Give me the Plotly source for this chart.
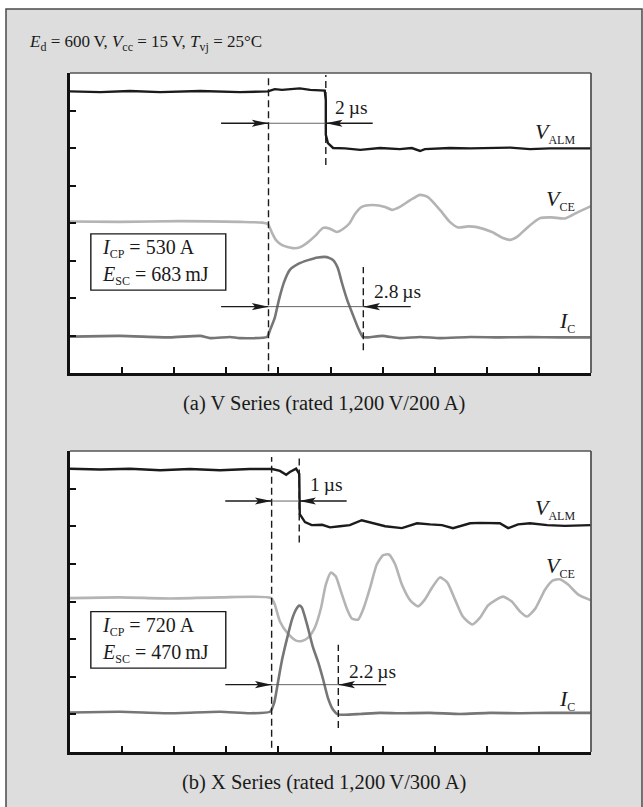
import plotly.graph_objects as go

W, H = 643, 807
FONT = "Liberation Serif"

# ---------------- data (time in divisions, signal in divisions) ----------------
# Panel (a): V Series
a_alm_t = [0, 0.58, 1.15, 1.73, 2.50, 3.26, 3.80, 3.93, 4.07, 4.22, 4.41, 4.61, 4.89, 4.91, 4.91, 4.95, 5.05,
           5.28, 5.57, 5.95, 6.33, 6.56, 6.72, 6.81, 7.29, 7.68, 8.06, 8.45, 8.83, 9.21, 10]
a_alm_v = [7.51, 7.49, 7.52, 7.49, 7.52, 7.49, 7.51, 7.57, 7.55, 7.56, 7.59, 7.55, 7.53, 7.28, 6.35, 6.13, 6.00,
           5.99, 5.95, 6.00, 5.97, 6.00, 5.92, 5.97, 6.00, 5.99, 6.00, 6.01, 5.97, 5.99, 5.99]

a_vce_t = [0, 0.96, 2.11, 3.26, 3.69, 3.80, 3.88, 3.95, 4.07, 4.28, 4.41, 4.55, 4.70, 4.86, 4.99, 5.12, 5.24,
           5.37, 5.47, 5.60, 5.80, 6.05, 6.18, 6.33, 6.53, 6.72, 6.87, 7.10, 7.29, 7.45, 7.64, 7.81, 8.10,
           8.31, 8.45, 8.60, 8.77, 9.02, 9.25, 9.50, 9.75, 10]
a_vce_v = [4.04, 4.03, 4.05, 4.03, 4.01, 3.97, 3.73, 3.55, 3.41, 3.33, 3.35, 3.47, 3.65, 3.87, 3.85, 3.76, 3.84,
           4.00, 4.24, 4.43, 4.48, 4.43, 4.35, 4.43, 4.61, 4.75, 4.69, 4.35, 4.03, 3.88, 3.91, 3.89, 3.76,
           3.60, 3.55, 3.65, 3.87, 4.13, 4.15, 4.12, 4.29, 4.45]

a_ic_t = [0, 0.96, 1.92, 2.50, 2.69, 3.07, 3.26, 3.78, 3.84, 3.93, 4.01, 4.11, 4.22, 4.38, 4.57, 4.76, 4.93,
          5.05, 5.14, 5.22, 5.32, 5.43, 5.53, 5.62, 5.72, 5.99, 6.33, 6.72, 7.10, 7.68, 8.25, 8.83, 9.40, 10]
a_ic_v = [0.97, 0.99, 0.95, 0.99, 0.93, 0.96, 0.93, 0.96, 1.15, 1.47, 1.95, 2.43, 2.75, 2.91, 3.01, 3.08, 3.09,
          3.01, 2.80, 2.40, 1.95, 1.55, 1.20, 0.96, 0.95, 0.99, 0.93, 0.96, 0.93, 0.96, 0.95, 0.96, 0.95, 0.95]

# Panel (b): X Series
b_alm_t = [0, 0.58, 1.15, 1.73, 2.30, 2.88, 3.45, 3.88, 4.03, 4.15, 4.22, 4.34, 4.40, 4.40, 4.41, 4.51, 4.64,
           4.84, 4.99, 5.18, 5.37, 5.60, 5.80, 6.05, 6.37, 6.66, 6.91, 7.14, 7.35, 7.68, 7.87, 8.25, 8.41,
           8.60, 8.83, 9.16, 9.50, 10]
b_alm_v = [7.53, 7.51, 7.53, 7.49, 7.52, 7.49, 7.52, 7.52, 7.47, 7.37, 7.44, 7.53, 7.39, 6.72, 6.32, 6.11, 6.03,
           6.04, 5.97, 6.00, 6.03, 6.16, 6.08, 6.00, 5.95, 6.08, 6.05, 6.03, 5.95, 6.08, 6.09, 6.08, 5.95,
           6.05, 6.08, 6.03, 6.01, 6.03]

b_vce_t = [0, 0.96, 1.92, 2.88, 3.86, 3.93, 4.03, 4.18, 4.34, 4.45, 4.57, 4.70, 4.82, 4.91, 5.01, 5.10, 5.20,
           5.32, 5.41, 5.53, 5.64, 5.76, 5.89, 6.01, 6.12, 6.24, 6.37, 6.53, 6.68, 6.81, 6.95, 7.10, 7.24,
           7.39, 7.54, 7.72, 7.87, 8.02, 8.16, 8.31, 8.48, 8.64, 8.77, 8.93, 9.12, 9.27, 9.40, 9.56, 9.75, 10]
b_vce_v = [4.09, 4.11, 4.08, 4.11, 4.09, 3.92, 3.47, 3.15, 2.96, 2.95, 3.04, 3.31, 3.84, 4.45, 4.77, 4.67, 4.27,
           3.79, 3.55, 3.52, 3.84, 4.37, 4.99, 5.23, 5.25, 4.99, 4.45, 4.03, 3.87, 4.05, 4.37, 4.64, 4.51,
           4.05, 3.60, 3.39, 3.57, 3.89, 4.03, 4.13, 4.00, 3.73, 3.60, 3.81, 4.32, 4.56, 4.59, 4.45, 4.19, 4.03]

b_ic_t = [0, 0.96, 1.92, 2.88, 3.45, 3.84, 3.92, 4.00, 4.07, 4.17, 4.26, 4.34, 4.40, 4.45, 4.55, 4.66, 4.76,
          4.86, 4.95, 5.05, 5.14, 5.28, 5.57, 5.95, 6.33, 6.91, 7.49, 8.06, 8.64, 9.21, 10]
b_ic_v = [1.05, 1.07, 1.03, 1.07, 1.03, 1.07, 1.31, 1.92, 2.45, 3.04, 3.52, 3.79, 3.89, 3.84, 3.39, 2.80, 2.40,
          1.92, 1.44, 1.12, 1.00, 0.99, 1.01, 1.04, 1.03, 1.04, 1.01, 1.04, 1.03, 1.04, 1.04]

# timing markers: (x, y_low, y_high)
a_dashes = [(3.81, 0.05, 7.9), (4.91, 5.55, 7.95), (5.63, 0.61, 2.83)]
b_dashes = [(3.87, 0.11, 7.84), (4.40, 5.57, 7.84), (5.15, 0.64, 2.85)]
# arrows: (y, left tail, left tip, right tip, right tail, label, label x, label y)
TS = "\u2009"  # thin space
a_arrows = [(6.66, 2.90, 3.81, 4.91, 5.81, "2" + TS + "µs", 5.05, 7.07),
            (1.77, 2.90, 3.81, 5.63, 6.54, "2.8" + TS + "µs", 5.79, 2.17)]
b_arrows = [(6.67, 2.98, 3.87, 4.40, 5.31, "1" + TS + "µs", 4.57, 7.10),
            (1.79, 2.98, 3.87, 5.15, 6.07, "2.2" + TS + "µs", 5.32, 2.14)]


def sub(s, size):
    return f"<sub><span style='font-size:{size}px'>{s}</span></sub>"


a_box = dict(x0=0.40, x1=2.99, y0=2.21, y1=3.71,
             l1="<i>I</i>" + sub("CP", 12) + " = 530" + TS + "A",
             l2="<i>E</i>" + sub("SC", 12) + " = 683" + TS + "mJ")
b_box = dict(x0=0.40, x1=2.99, y0=2.23, y1=3.73,
             l1="<i>I</i>" + sub("CP", 12) + " = 720" + TS + "A",
             l2="<i>E</i>" + sub("SC", 12) + " = 470" + TS + "mJ")
a_lbl = [(9.73, 6.40, "<i>V</i>" + sub("ALM", 12)), (9.73, 4.61, "<i>V</i>" + sub("CE", 12)),
         (9.73, 1.37, "<i>I</i>" + sub("C", 12))]
b_lbl = [(9.73, 6.45, "<i>V</i>" + sub("ALM", 12)), (9.73, 4.91, "<i>V</i>" + sub("CE", 12)),
         (9.73, 1.39, "<i>I</i>" + sub("C", 12))]

header = ("<i>E</i>" + sub("d", 12) + " = 600" + TS + "V, <i>V</i>" + sub("cc", 12) + " = 15" + TS +
          "V, <i>T</i>" + sub("vj", 12) + " = 25°C")
cap_a = "(a) V Series (rated 1,200" + TS + "V/200" + TS + "A)"
cap_b = "(b) X Series (rated 1,200" + TS + "V/300" + TS + "A)"

# ---------------- figure ----------------
C_ALM, C_VCE, C_IC = "#1c1a1a", "#b4b4b4", "#767676"
TXT = "#1a1a1a"

fig = go.Figure()
panels = [("x", "y", a_alm_t, a_alm_v, a_vce_t, a_vce_v, a_ic_t, a_ic_v),
          ("x2", "y2", b_alm_t, b_alm_v, b_vce_t, b_vce_v, b_ic_t, b_ic_v)]
for xr, yr, t1, v1, t2, v2, t3, v3 in panels:
    fig.add_trace(go.Scatter(x=t2, y=v2, mode="lines", xaxis=xr, yaxis=yr,
                             line=dict(color=C_VCE, width=2.6, shape="spline", smoothing=0.6), hoverinfo="skip"))
    fig.add_trace(go.Scatter(x=t3, y=v3, mode="lines", xaxis=xr, yaxis=yr,
                             line=dict(color=C_IC, width=2.6, shape="spline", smoothing=0.5), hoverinfo="skip"))
    fig.add_trace(go.Scatter(x=t1, y=v1, mode="lines", xaxis=xr, yaxis=yr,
                             line=dict(color=C_ALM, width=2.4), hoverinfo="skip"))

shapes = []
annots = []
# outer grey frame
shapes.append(dict(type="rect", xref="paper", yref="paper", x0=6 / W, x1=642 / W, y0=-0.05, y1=1 - 9 / H,
                   fillcolor="#dcdddc", line=dict(color="#4a4a4a", width=1.5), layer="below"))

domains = {"a": (73, 373), "b": (451, 752)}
for (top, bot) in domains.values():
    shapes.append(dict(type="rect", xref="paper", yref="paper", x0=70 / W, x1=591 / W,
                       y0=1 - bot / H, y1=1 - top / H, fillcolor="white", line=dict(width=0), layer="below"))

HL, HH = 0.32, 0.095  # arrow head length / half height in data units


def head(xt, y, direction):
    L = HL * direction
    return f"M{xt},{y} L{xt - L},{y + HH} L{xt - 0.8 * L},{y} L{xt - L},{y - HH} Z"


for xr, yr, dashes, arrows, box, lbls in [("x", "y", a_dashes, a_arrows, a_box, a_lbl),
                                          ("x2", "y2", b_dashes, b_arrows, b_box, b_lbl)]:
    # top/right thin frame
    shapes.append(dict(type="line", xref=xr + " domain", yref=yr + " domain", x0=0, x1=1, y0=1, y1=1,
                       line=dict(color="#555555", width=1.5)))
    shapes.append(dict(type="line", xref=xr + " domain", yref=yr + " domain", x0=1, x1=1, y0=0, y1=1,
                       line=dict(color="#555555", width=1.8)))
    for (dx, y0, y1) in dashes:
        shapes.append(dict(type="line", xref=xr, yref=yr, x0=dx, x1=dx, y0=y0, y1=y1,
                           line=dict(color="#1a1a1a", width=1.4, dash="7px,4px")))
    for (ay, lt, ltip, rtip, rt, txt, tx, ty) in arrows:
        shapes.append(dict(type="line", xref=xr, yref=yr, x0=lt, x1=ltip, y0=ay, y1=ay,
                           line=dict(color="#1a1a1a", width=1.4)))
        shapes.append(dict(type="line", xref=xr, yref=yr, x0=rtip, x1=rt, y0=ay, y1=ay,
                           line=dict(color="#1a1a1a", width=1.4)))
        shapes.append(dict(type="line", xref=xr, yref=yr, x0=ltip, x1=rtip, y0=ay, y1=ay,
                           line=dict(color="#555555", width=0.9)))
        shapes.append(dict(type="path", xref=xr, yref=yr, path=head(ltip, ay, 1),
                           fillcolor="#1a1a1a", line=dict(width=0)))
        shapes.append(dict(type="path", xref=xr, yref=yr, path=head(rtip, ay, -1),
                           fillcolor="#1a1a1a", line=dict(width=0)))
        annots.append(dict(xref=xr, yref=yr, x=tx, y=ty, text=txt, showarrow=False, xanchor="left",
                           yanchor="middle", font=dict(family=FONT, size=19.5, color=TXT)))
    shapes.append(dict(type="rect", xref=xr, yref=yr, x0=box["x0"], x1=box["x1"], y0=box["y0"], y1=box["y1"],
                       fillcolor="white", line=dict(color="#1a1a1a", width=1.4)))
    mid = 0.5 * (box["y0"] + box["y1"])
    for l, ya in [(box["l1"], "bottom"), (box["l2"], "top")]:
        annots.append(dict(xref=xr, yref=yr, x=box["x0"] + 0.2, y=mid, text=l, borderpad=0,
                           showarrow=False, xanchor="left", yanchor=ya,
                           font=dict(family=FONT, size=20, color=TXT)))
    for (lx, ly, lt) in lbls:
        annots.append(dict(xref=xr, yref=yr, x=lx, y=ly, text=lt, showarrow=False, xanchor="right",
                           yanchor="middle", font=dict(family=FONT, size=22, color=TXT)))

annots.append(dict(xref="paper", yref="paper", x=27 / W, y=1 - 43 / H, text=header, showarrow=False,
                   xanchor="left", yanchor="middle", font=dict(family=FONT, size=17, color=TXT)))
annots.append(dict(xref="paper", yref="paper", x=324 / W, y=1 - 403 / H, text=cap_a, showarrow=False,
                   xanchor="center", yanchor="middle", font=dict(family=FONT, size=20.5, color=TXT)))
annots.append(dict(xref="paper", yref="paper", x=324 / W, y=1 - 782 / H, text=cap_b, showarrow=False,
                   xanchor="center", yanchor="middle", font=dict(family=FONT, size=20.5, color=TXT)))

xax = dict(range=[0, 10], showgrid=False, zeroline=False, showline=True, linecolor="#111111", linewidth=2.6,
           ticks="inside", ticklen=6, tickwidth=1.5, tickcolor="#111111", tickvals=[1, 2, 3, 4, 5, 6, 7, 8, 9],
           showticklabels=False, fixedrange=True)
yax = dict(range=[0, 8], showgrid=False, zeroline=False, showline=True, linecolor="#111111", linewidth=2.6,
           ticks="inside", ticklen=6, tickwidth=1.5, tickcolor="#111111", tickvals=[1, 2, 3, 4, 5, 6, 7],
           showticklabels=False, fixedrange=True)

fig.update_layout(
    width=W, height=H, margin=dict(l=0, r=0, t=0, b=0), showlegend=False,
    paper_bgcolor="white", plot_bgcolor="rgba(0,0,0,0)",
    xaxis=dict(xax, domain=[70 / W, 591 / W], anchor="y"),
    yaxis=dict(yax, domain=[1 - 373 / H, 1 - 73 / H], anchor="x"),
    xaxis2=dict(xax, domain=[70 / W, 591 / W], anchor="y2"),
    yaxis2=dict(yax, domain=[1 - 752 / H, 1 - 451 / H], anchor="x2"),
    shapes=shapes, annotations=annots,
)

fig.write_html("out.html", config={"displayModeBar": False},
               post_script="document.body.style.margin='0px';")
